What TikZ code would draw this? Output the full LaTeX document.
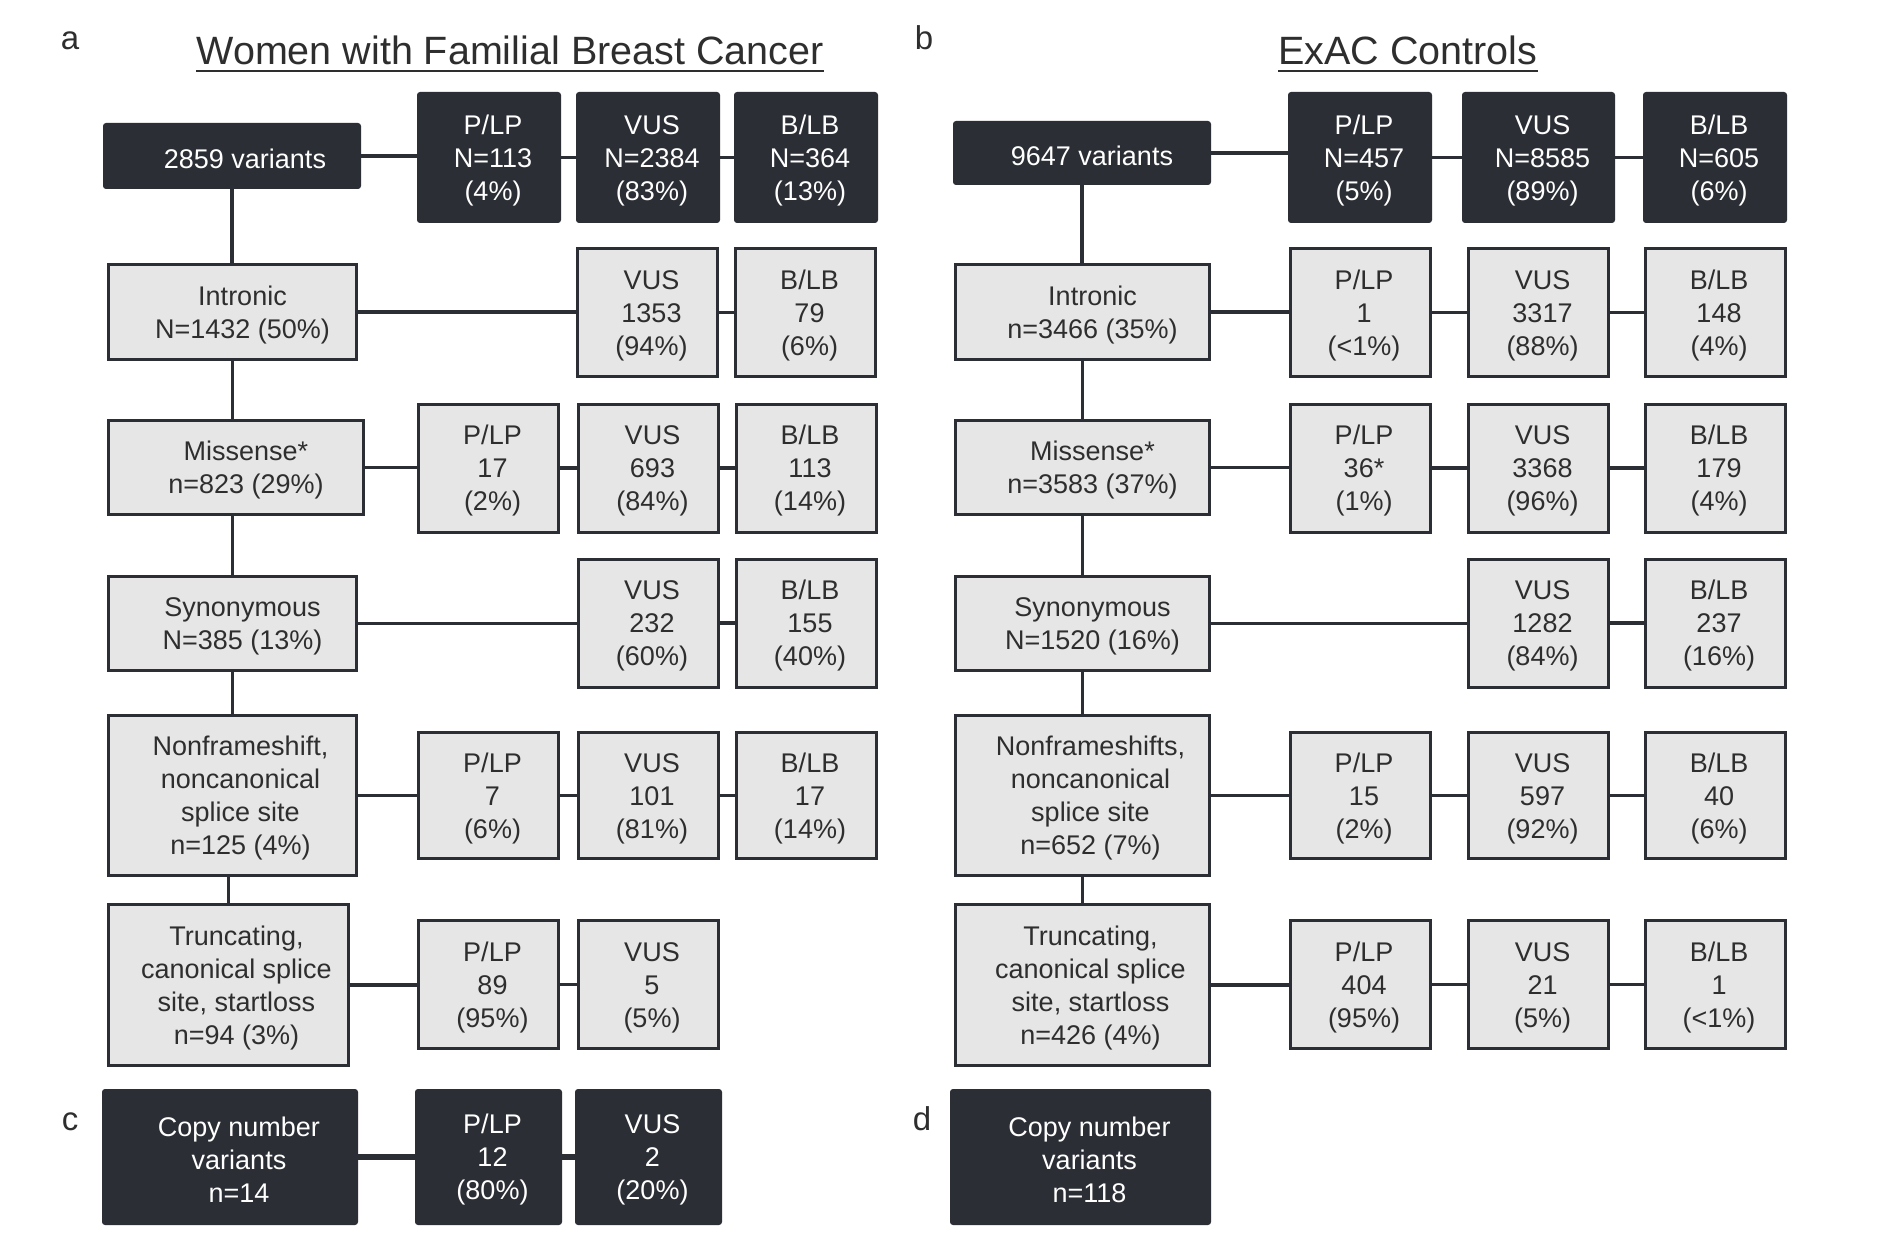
\documentclass[tikz,border=0pt]{standalone}
\usepackage{fontspec}
\setmainfont{Liberation Sans}
\definecolor{dk}{HTML}{2B2E35}
\definecolor{lt}{HTML}{E6E6E6}
\definecolor{txt}{HTML}{2E2E2E}
\begin{document}
\begin{tikzpicture}[x=1pt,y=-1pt,
  dkbox/.style={fill=dk, draw=none, rounded corners=3pt, inner sep=0pt},
  ltbox/.style={fill=lt, draw=dk, line width=3pt, inner sep=0pt},
  sm/.style={minimum width=140pt, minimum height=128pt},
  hd/.style={minimum width=144pt, minimum height=131pt},
  wt/.style={text=white, align=center, font=\fontsize{27}{33}\selectfont, inner sep=0pt, yshift=-3pt},
  bt/.style={text=txt, align=center, font=\fontsize{27}{33}\selectfont, inner sep=0pt, yshift=-3pt},
  cn/.style={draw=dk, line width=3.5pt},
  cnthick/.style={draw=dk, line width=6.5pt},
  ttl/.style={text=txt, font=\fontsize{39.5}{45}\selectfont, inner sep=0pt, anchor=base},
  plabel/.style={text=txt, font=\fontsize{33}{38}\selectfont, inner sep=0pt, anchor=base}]
\useasboundingbox[fill=white] (0,0) rectangle (1901,1241);

% ---------- panel labels and titles ----------
\node[plabel] (la) at (70,50) {a};
\node[plabel] (lb) at (924,50) {b};
\node[plabel] (lc) at (70,1130) {c};
\node[plabel] (ld) at (922,1130) {d};
\node[ttl] (tA) at (510,65) {Women with Familial Breast Cancer};
\node[ttl] (tB) at (1408,65) {ExAC Controls};
\draw[txt, line width=2pt] ([yshift=-6pt]tA.base west) -- ([yshift=-6pt]tA.base east);
\draw[txt, line width=2pt] ([yshift=-6pt]tB.base west) -- ([yshift=-6pt]tB.base east);

% ---------- panel a ----------
\node[dkbox, minimum width=258pt, minimum height=66pt, label={[wt,xshift=13pt]center:{2859 variants}}] (a0) at (232,156) {};
\node[dkbox, hd, label={[wt,xshift=4pt]center:{P/LP\\N=113\\(4\%)}}] (aP0) at (489,157.5) {};
\node[dkbox, hd, label={[wt,xshift=4pt]center:{VUS\\N=2384\\(83\%)}}] (aV0) at (648,157.5) {};
\node[dkbox, hd, label={[wt,xshift=4pt]center:{B/LB\\N=364\\(13\%)}}] (aB0) at (806,157.5) {};

\node[ltbox, minimum width=248pt, minimum height=95pt, label={[bt,xshift=10pt]center:{Intronic\\N=1432 (50\%)}}] (aI) at (232.5,312) {};
\node[ltbox, sm, label={[bt,xshift=4pt]center:{VUS\\1353\\(94\%)}}] (aIV) at (647.5,312.5) {};
\node[ltbox, sm, label={[bt,xshift=4pt]center:{B/LB\\79\\(6\%)}}] (aIB) at (805.5,312.5) {};

\node[ltbox, minimum width=255pt, minimum height=94pt, label={[bt,xshift=10pt]center:{Missense*\\n=823 (29\%)}}] (aM) at (236,467.5) {};
\node[ltbox, sm, label={[bt,xshift=4pt]center:{P/LP\\17\\(2\%)}}] (aMP) at (488.5,468) {};
\node[ltbox, sm, label={[bt,xshift=4pt]center:{VUS\\693\\(84\%)}}] (aMV) at (648.5,468) {};
\node[ltbox, sm, label={[bt,xshift=4pt]center:{B/LB\\113\\(14\%)}}] (aMB) at (806,468) {};

\node[ltbox, minimum width=248pt, minimum height=94pt, label={[bt,xshift=10pt]center:{Synonymous\\N=385 (13\%)}}] (aS) at (232.5,623.5) {};
\node[ltbox, sm, label={[bt,xshift=4pt]center:{VUS\\232\\(60\%)}}] (aSV) at (648,623) {};
\node[ltbox, sm, label={[bt,xshift=4pt]center:{B/LB\\155\\(40\%)}}] (aSB) at (806,623) {};

\node[ltbox, minimum width=248pt, minimum height=160pt, label={[bt,xshift=8pt]center:{Nonframeshift,\\noncanonical\\splice site\\n=125 (4\%)}}] (aN) at (232.5,795.5) {};
\node[ltbox, sm, minimum height=126pt, label={[bt,xshift=4pt]center:{P/LP\\7\\(6\%)}}] (aNP) at (488.5,795.5) {};
\node[ltbox, sm, minimum height=126pt, label={[bt,xshift=4pt]center:{VUS\\101\\(81\%)}}] (aNV) at (648,795.5) {};
\node[ltbox, sm, minimum height=126pt, label={[bt,xshift=4pt]center:{B/LB\\17\\(14\%)}}] (aNB) at (806,795.5) {};

\node[ltbox, minimum width=240pt, minimum height=161pt, label={[bt,xshift=8pt]center:{Truncating,\\canonical splice\\site, startloss\\n=94 (3\%)}}] (aT) at (228.5,985) {};
\node[ltbox, sm, label={[bt,xshift=4pt]center:{P/LP\\89\\(95\%)}}] (aTP) at (488.5,984.5) {};
\node[ltbox, sm, label={[bt,xshift=4pt]center:{VUS\\5\\(5\%)}}] (aTV) at (648,984.5) {};

% panel c
\node[dkbox, minimum width=256pt, minimum height=136pt, label={[wt,xshift=9pt]center:{Copy number\\variants\\n=14}}] (cC) at (230,1157) {};
\node[dkbox, minimum width=147pt, minimum height=136pt, label={[wt,xshift=4pt]center:{P/LP\\12\\(80\%)}}] (cP) at (488.5,1157) {};
\node[dkbox, minimum width=147pt, minimum height=136pt, label={[wt,xshift=4pt]center:{VUS\\2\\(20\%)}}] (cV) at (648.5,1157) {};

% connectors panel a
\draw[cn] (a0.east) -- (a0.east -| aP0.west);
\draw[cn] (aP0.east) -- (aV0.west);
\draw[cn] (aV0.east) -- (aB0.west);
\draw[cn] (a0.south) -- (a0.south |- aI.north);
\draw[cn] (aI.south) -- (aI.south |- aM.north);
\draw[cn] (aS.north) -- (aS.north |- aM.south);
\draw[cn] (aS.south) -- (aS.south |- aN.north);
\draw[cn] (aT.north) -- (aT.north |- aN.south);
\draw[cn] (aI.east) -- (aI.east -| aIV.west);
\draw[cn] (aIV.east) -- (aIB.west);
\draw[cn] (aM.east) -- (aM.east -| aMP.west);
\draw[cn] (aMP.east) -- (aMV.west);
\draw[cn] (aMV.east) -- (aMB.west);
\draw[cn] (aS.east) -- (aS.east -| aSV.west);
\draw[cn] (aSV.east) -- (aSB.west);
\draw[cn] (aN.east) -- (aN.east -| aNP.west);
\draw[cn] (aNP.east) -- (aNV.west);
\draw[cn] (aNV.east) -- (aNB.west);
\draw[cn] (aT.east) -- (aT.east -| aTP.west);
\draw[cn] (aTP.east) -- (aTV.west);
\draw[cnthick] (cC.east) -- (cP.west);
\draw[cnthick] (cP.east) -- (cV.west);

% ---------- panel b ----------
\node[dkbox, minimum width=258pt, minimum height=64pt, label={[wt,xshift=10pt]center:{9647 variants}}] (b0) at (1082,153) {};
\node[dkbox, hd, label={[wt,xshift=4pt]center:{P/LP\\N=457\\(5\%)}}] (bP0) at (1360,157.5) {};
\node[dkbox, hd, minimum width=153pt, label={[wt,xshift=4pt]center:{VUS\\N=8585\\(89\%)}}] (bV0) at (1538.5,157.5) {};
\node[dkbox, hd, label={[wt,xshift=4pt]center:{B/LB\\N=605\\(6\%)}}] (bB0) at (1715,157.5) {};

\node[ltbox, minimum width=254pt, minimum height=95pt, label={[bt,xshift=10pt]center:{Intronic\\n=3466 (35\%)}}] (bI) at (1082.5,312) {};
\node[ltbox, sm, label={[bt,xshift=4pt]center:{P/LP\\1\\(<1\%)}}] (bIP) at (1360,312.5) {};
\node[ltbox, sm, label={[bt,xshift=4pt]center:{VUS\\3317\\(88\%)}}] (bIV) at (1538.5,312.5) {};
\node[ltbox, sm, label={[bt,xshift=4pt]center:{B/LB\\148\\(4\%)}}] (bIB) at (1715,312.5) {};

\node[ltbox, minimum width=254pt, minimum height=94pt, label={[bt,xshift=10pt]center:{Missense*\\n=3583 (37\%)}}] (bM) at (1082.5,467.5) {};
\node[ltbox, sm, label={[bt,xshift=4pt]center:{P/LP\\36*\\(1\%)}}] (bMP) at (1360,468) {};
\node[ltbox, sm, label={[bt,xshift=4pt]center:{VUS\\3368\\(96\%)}}] (bMV) at (1538.5,468) {};
\node[ltbox, sm, label={[bt,xshift=4pt]center:{B/LB\\179\\(4\%)}}] (bMB) at (1715,468) {};

\node[ltbox, minimum width=254pt, minimum height=94pt, label={[bt,xshift=10pt]center:{Synonymous\\N=1520 (16\%)}}] (bS) at (1082.5,623.5) {};
\node[ltbox, sm, label={[bt,xshift=4pt]center:{VUS\\1282\\(84\%)}}] (bSV) at (1538.5,623) {};
\node[ltbox, sm, label={[bt,xshift=4pt]center:{B/LB\\237\\(16\%)}}] (bSB) at (1715,623) {};

\node[ltbox, minimum width=254pt, minimum height=160pt, label={[bt,xshift=8pt]center:{Nonframeshifts,\\noncanonical\\splice site\\n=652 (7\%)}}] (bN) at (1082.5,795.5) {};
\node[ltbox, sm, minimum height=126pt, label={[bt,xshift=4pt]center:{P/LP\\15\\(2\%)}}] (bNP) at (1360,795.5) {};
\node[ltbox, sm, minimum height=126pt, label={[bt,xshift=4pt]center:{VUS\\597\\(92\%)}}] (bNV) at (1538.5,795.5) {};
\node[ltbox, sm, minimum height=126pt, label={[bt,xshift=4pt]center:{B/LB\\40\\(6\%)}}] (bNB) at (1715,795.5) {};

\node[ltbox, minimum width=254pt, minimum height=161pt, label={[bt,xshift=8pt]center:{Truncating,\\canonical splice\\site, startloss\\n=426 (4\%)}}] (bT) at (1082.5,985) {};
\node[ltbox, sm, label={[bt,xshift=4pt]center:{P/LP\\404\\(95\%)}}] (bTP) at (1360,984.5) {};
\node[ltbox, sm, label={[bt,xshift=4pt]center:{VUS\\21\\(5\%)}}] (bTV) at (1538.5,984.5) {};
\node[ltbox, sm, label={[bt,xshift=4pt]center:{B/LB\\1\\(<1\%)}}] (bTB) at (1715,984.5) {};

% panel d
\node[dkbox, minimum width=261pt, minimum height=136pt, label={[wt,xshift=9pt]center:{Copy number\\variants\\n=118}}] (dC) at (1080.5,1157) {};

% connectors panel b
\draw[cn] (b0.east) -- (b0.east -| bP0.west);
\draw[cn] (bP0.east) -- (bV0.west);
\draw[cn] (bV0.east) -- (bB0.west);
\draw[cn] (b0.south) -- (b0.south |- bI.north);
\draw[cn] (bI.south) -- (bI.south |- bM.north);
\draw[cn] (bM.south) -- (bM.south |- bS.north);
\draw[cn] (bS.south) -- (bS.south |- bN.north);
\draw[cn] (bN.south) -- (bN.south |- bT.north);
\draw[cn] (bI.east) -- (bI.east -| bIP.west);
\draw[cn] (bIP.east) -- (bIV.west);
\draw[cn] (bIV.east) -- (bIB.west);
\draw[cn] (bM.east) -- (bM.east -| bMP.west);
\draw[cn] (bMP.east) -- (bMV.west);
\draw[cn] (bMV.east) -- (bMB.west);
\draw[cn] (bS.east) -- (bS.east -| bSV.west);
\draw[cn] (bSV.east) -- (bSB.west);
\draw[cn] (bN.east) -- (bN.east -| bNP.west);
\draw[cn] (bNP.east) -- (bNV.west);
\draw[cn] (bNV.east) -- (bNB.west);
\draw[cn] (bT.east) -- (bT.east -| bTP.west);
\draw[cn] (bTP.east) -- (bTV.west);
\draw[cn] (bTV.east) -- (bTB.west);
\end{tikzpicture}
\end{document}
